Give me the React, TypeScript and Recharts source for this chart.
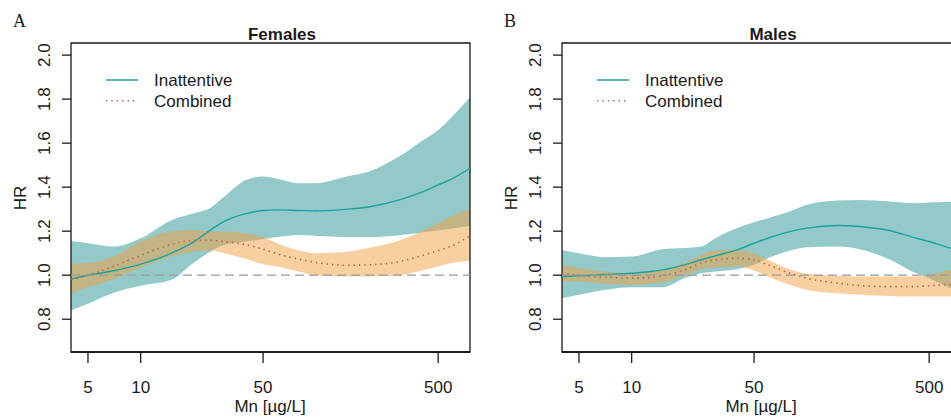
import {
  Area,
  ComposedChart,
  Line,
  ReferenceArea,
  ReferenceLine,
  XAxis,
  YAxis,
} from "recharts";

// Mn concentration grid (µg/L), shared by both panels
const MN_LEVELS = [4, 5, 7, 10, 15, 20, 25, 30, 40, 50, 60, 80, 100, 150, 200, 300, 400, 500, 600, 760];

// Females
const F_INATT = [0.982, 1.0, 1.02, 1.05, 1.1, 1.15, 1.205, 1.245, 1.28, 1.294, 1.297, 1.294, 1.292, 1.3, 1.31, 1.342, 1.376, 1.41, 1.438, 1.486];
const F_INATT_HI = [1.155, 1.145, 1.13, 1.168, 1.25, 1.28, 1.305, 1.357, 1.433, 1.448, 1.438, 1.418, 1.418, 1.448, 1.47, 1.54, 1.608, 1.66, 1.72, 1.81];
const F_INATT_LO = [0.84, 0.87, 0.92, 0.952, 0.979, 1.055, 1.107, 1.138, 1.153, 1.164, 1.173, 1.183, 1.179, 1.173, 1.173, 1.182, 1.194, 1.203, 1.212, 1.224];
const F_COMB = [0.982, 1.0, 1.04, 1.09, 1.14, 1.158, 1.158, 1.153, 1.138, 1.118, 1.097, 1.073, 1.058, 1.045, 1.047, 1.062, 1.088, 1.112, 1.133, 1.179];
const F_COMB_HI = [1.052, 1.055, 1.085, 1.153, 1.198, 1.206, 1.198, 1.198, 1.19, 1.173, 1.145, 1.112, 1.1, 1.106, 1.123, 1.158, 1.198, 1.236, 1.27, 1.3];
const F_COMB_LO = [0.918, 0.945, 0.982, 1.035, 1.085, 1.107, 1.112, 1.1, 1.073, 1.05, 1.04, 1.017, 1.0, 0.994, 0.994, 1.0, 1.02, 1.04, 1.055, 1.064];

// Males
const M_INATT = [0.994, 0.997, 1.003, 1.009, 1.024, 1.047, 1.07, 1.088, 1.115, 1.145, 1.168, 1.198, 1.214, 1.226, 1.221, 1.202, 1.173, 1.153, 1.133, 1.108];
const M_INATT_HI = [1.115, 1.1, 1.082, 1.085, 1.118, 1.123, 1.13, 1.168, 1.214, 1.24, 1.259, 1.289, 1.32, 1.339, 1.342, 1.335, 1.327, 1.33, 1.333, 1.335];
const M_INATT_LO = [0.895, 0.911, 0.933, 0.945, 0.945, 0.986, 1.009, 1.017, 1.027, 1.047, 1.077, 1.112, 1.127, 1.13, 1.118, 1.07, 1.017, 0.986, 0.956, 0.918];
const M_COMB = [1.009, 1.0, 0.991, 0.986, 0.997, 1.024, 1.055, 1.07, 1.077, 1.07, 1.047, 1.009, 0.986, 0.964, 0.953, 0.948, 0.948, 0.952, 0.956, 0.961];
const M_COMB_HI = [1.047, 1.032, 1.017, 1.009, 1.024, 1.055, 1.092, 1.112, 1.115, 1.1, 1.07, 1.027, 1.006, 0.997, 0.994, 0.994, 0.994, 1.0, 1.017, 1.032];
const M_COMB_LO = [0.971, 0.971, 0.961, 0.956, 0.967, 1.0, 1.027, 1.035, 1.039, 1.021, 0.994, 0.956, 0.933, 0.918, 0.911, 0.906, 0.903, 0.903, 0.903, 0.903];

const X_TICKS = [5, 10, 50, 500];
const Y_TICKS = [0.8, 1.0, 1.2, 1.4, 1.6, 1.8, 2.0];
const X_DOMAIN: [number, number] = [4, 760];
const Y_DOMAIN: [number, number] = [0.651, 2.055];

const INK = "#1a1a1a";
const TEAL_BAND = "#2a9393";
const TEAL_LINE = "#1aa39c";
const ORANGE_BAND = "#efa042";
const DOT_LINE = "#bf5f48";
const SANS = '"Liberation Sans", Arial, Helvetica, sans-serif';

type Row = { x: number; inatt: number; inHi: number; inLo: number; comb: number; coHi: number; coLo: number };

function buildRows(inatt: number[], inHi: number[], inLo: number[], comb: number[], coHi: number[], coLo: number[]): Row[] {
  return MN_LEVELS.map((x, i) => ({
    x,
    inatt: inatt[i],
    inHi: inHi[i],
    inLo: inLo[i],
    comb: comb[i],
    coHi: coHi[i],
    coLo: coLo[i],
  }));
}

const femaleRows = buildRows(F_INATT, F_INATT_HI, F_INATT_LO, F_COMB, F_COMB_HI, F_COMB_LO);
const maleRows = buildRows(M_INATT, M_INATT_HI, M_INATT_LO, M_COMB, M_COMB_HI, M_COMB_LO);

function YTick(props: any) {
  const { x, y, payload } = props;
  const bx = x - 10;
  return (
    <text x={bx} y={y} transform={`rotate(-90 ${bx} ${y})`} textAnchor="middle" fill={INK} fontSize={17}>
      {Number(payload.value).toFixed(1)}
    </text>
  );
}

function Panel({ letter, title, rows, left }: { letter: string; title: string; rows: Row[]; left: number }) {
  return (
    <div style={{ position: "absolute", left, top: 0, width: 480, height: 418 }}>
      <ComposedChart width={480} height={418} data={rows} margin={{ top: 43, right: 10, bottom: 0, left: 0 }}>
        <XAxis
          dataKey="x"
          type="number"
          scale="log"
          domain={X_DOMAIN}
          ticks={X_TICKS}
          interval={0}
          allowDataOverflow
          height={66}
          tickSize={11}
          tickMargin={18}
          tick={{ fill: INK, fontSize: 17 }}
          axisLine={{ stroke: INK, strokeWidth: 2 }}
          tickLine={{ stroke: INK, strokeWidth: 1.3 }}
        />
        <YAxis
          type="number"
          domain={Y_DOMAIN}
          ticks={Y_TICKS}
          interval={0}
          allowDataOverflow
          width={71}
          tickSize={9}
          tick={<YTick />}
          axisLine={false}
          tickLine={{ stroke: INK, strokeWidth: 1.3 }}
        />
        <Area
          type="monotone"
          dataKey={(d: Row) => [d.inLo, d.inHi]}
          stroke="none"
          fill={TEAL_BAND}
          fillOpacity={0.5}
          dot={false}
          activeDot={false}
          isAnimationActive={false}
        />
        <Line
          type="monotone"
          dataKey="inatt"
          stroke={TEAL_LINE}
          strokeWidth={1.4}
          dot={false}
          activeDot={false}
          isAnimationActive={false}
        />
        <Area
          type="monotone"
          dataKey={(d: Row) => [d.coLo, d.coHi]}
          stroke="none"
          fill={ORANGE_BAND}
          fillOpacity={0.5}
          dot={false}
          activeDot={false}
          isAnimationActive={false}
        />
        <Line
          type="monotone"
          dataKey="comb"
          stroke={DOT_LINE}
          strokeWidth={1.6}
          strokeDasharray="1.4 4"
          dot={false}
          activeDot={false}
          isAnimationActive={false}
        />
        <ReferenceLine y={1} stroke="#999" strokeWidth={1.3} strokeDasharray="9 5" />
        <ReferenceArea
          x1={X_DOMAIN[0]}
          x2={X_DOMAIN[1]}
          y1={Y_DOMAIN[0]}
          y2={Y_DOMAIN[1]}
          fill="none"
          fillOpacity={0}
          stroke={INK}
          strokeWidth={1.3}
          ifOverflow="visible"
        />
      </ComposedChart>
      <svg width={480} height={418} style={{ position: "absolute", left: 0, top: 0, pointerEvents: "none" }}>
        <text x={13} y={26.7} fontFamily='"Liberation Serif", "Times New Roman", serif' fontSize={18} fill={INK}>
          {letter}
        </text>
        <text x={282} y={40} textAnchor="middle" fontWeight="bold" fontSize={17} fill={INK}>
          {title}
        </text>
        <text x={26} y={198} transform="rotate(-90 26 198)" textAnchor="middle" fontSize={17} fill={INK}>
          HR
        </text>
        <text x={270} y={411.5} textAnchor="middle" fontSize={17} fill={INK}>
          Mn [µg/L]
        </text>
        <line x1={106} x2={138} y1={80} y2={80} stroke={TEAL_LINE} strokeWidth={1.5} />
        <line x1={106} x2={138} y1={100.7} y2={100.7} stroke={DOT_LINE} strokeWidth={1.6} strokeDasharray="1.4 4" />
        <text x={154} y={86} fontSize={17} fill={INK}>
          Inattentive
        </text>
        <text x={154} y={106.5} fontSize={17} fill={INK}>
          Combined
        </text>
      </svg>
    </div>
  );
}

export default function App() {
  return (
    <div
      style={{
        position: "absolute",
        left: 0,
        top: 0,
        width: 951,
        height: 418,
        overflow: "hidden",
        background: "#fff",
        fontFamily: SANS,
      }}
    >
      <Panel letter="A" title="Females" rows={femaleRows} left={0} />
      <Panel letter="B" title="Males" rows={maleRows} left={491} />
    </div>
  );
}
